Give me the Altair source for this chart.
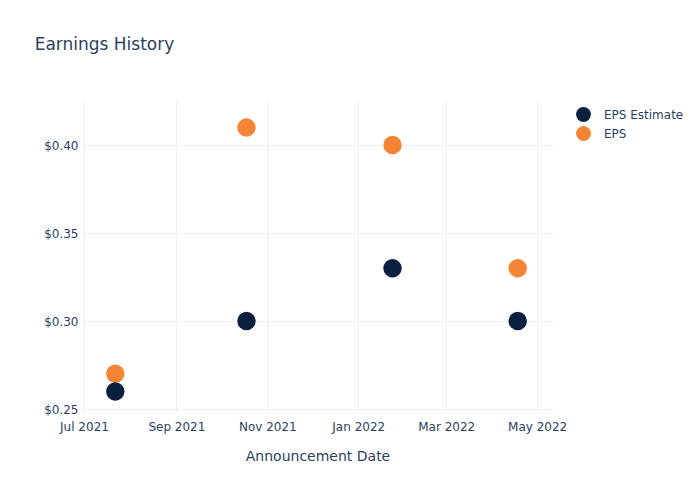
import altair as alt
import pandas as pd

dates = ["2021-07-22T00:00:00", "2021-10-18T00:00:00", "2022-01-24T00:00:00", "2022-04-18T00:00:00"]
eps_estimate = [0.26, 0.30, 0.33, 0.30]
eps_actual = [0.27, 0.41, 0.40, 0.33]

rows = []
for d, v in zip(dates, eps_actual):
    rows.append({"date": d, "value": v, "series": "EPS"})
for d, v in zip(dates, eps_estimate):
    rows.append({"date": d, "value": v, "series": "EPS Estimate"})
df = pd.DataFrame(rows)

FONT = "DejaVu Sans"
TXT = "#2a3f5f"
GRID = "#EBF0F8"

tick_dates = [alt.DateTime(year=2021, month=7, date=1), alt.DateTime(year=2021, month=9, date=1),
              alt.DateTime(year=2021, month=11, date=1), alt.DateTime(year=2022, month=1, date=1),
              alt.DateTime(year=2022, month=3, date=1), alt.DateTime(year=2022, month=5, date=1)]

chart = alt.Chart(df).mark_circle(size=340, opacity=1).encode(
    x=alt.X("date:T", title="Announcement Date",
            scale=alt.Scale(domain=[alt.DateTime(year=2021, month=6, date=29, hours=16),
                                    alt.DateTime(year=2022, month=5, date=11, hours=16)]),
            axis=alt.Axis(values=tick_dates, format="%b %Y", labelPadding=9, titlePadding=17)),
    y=alt.Y("value:Q", title=None,
            scale=alt.Scale(domain=[0.2483, 0.4256], nice=False, zero=False),
            axis=alt.Axis(values=[0.25, 0.30, 0.35, 0.40], format="$.2f", labelPadding=4)),
    color=alt.Color("series:N", title=None,
                    scale=alt.Scale(domain=["EPS Estimate", "EPS"], range=["#0b1f3f", "#f58536"]),
                    legend=alt.Legend(orient="none", legendX=493, legendY=6, symbolSize=220,
                                      symbolType="circle", labelOffset=12, rowPadding=3,
                                      padding=0, symbolOpacity=1)),
).properties(
    width=471, height=312,
    title=alt.Title("Earnings History", anchor="start", dx=-9, offset=46,
                    fontSize=17, fontWeight="normal", color=TXT, font=FONT),
    autosize="none",
    padding={"left": 74, "top": 92, "right": 137, "bottom": 72},
).configure_view(stroke=None).configure_axis(
    domain=False, ticks=False, gridColor=GRID, gridWidth=1,
    labelFont=FONT, labelFontSize=12, labelColor=TXT,
    titleFont=FONT, titleFontSize=14, titleColor=TXT, titleFontWeight="normal",
).configure_legend(labelFont=FONT, labelFontSize=12, labelColor=TXT)

chart.save("out.html", embed_options={"renderer": "svg", "actions": False})
